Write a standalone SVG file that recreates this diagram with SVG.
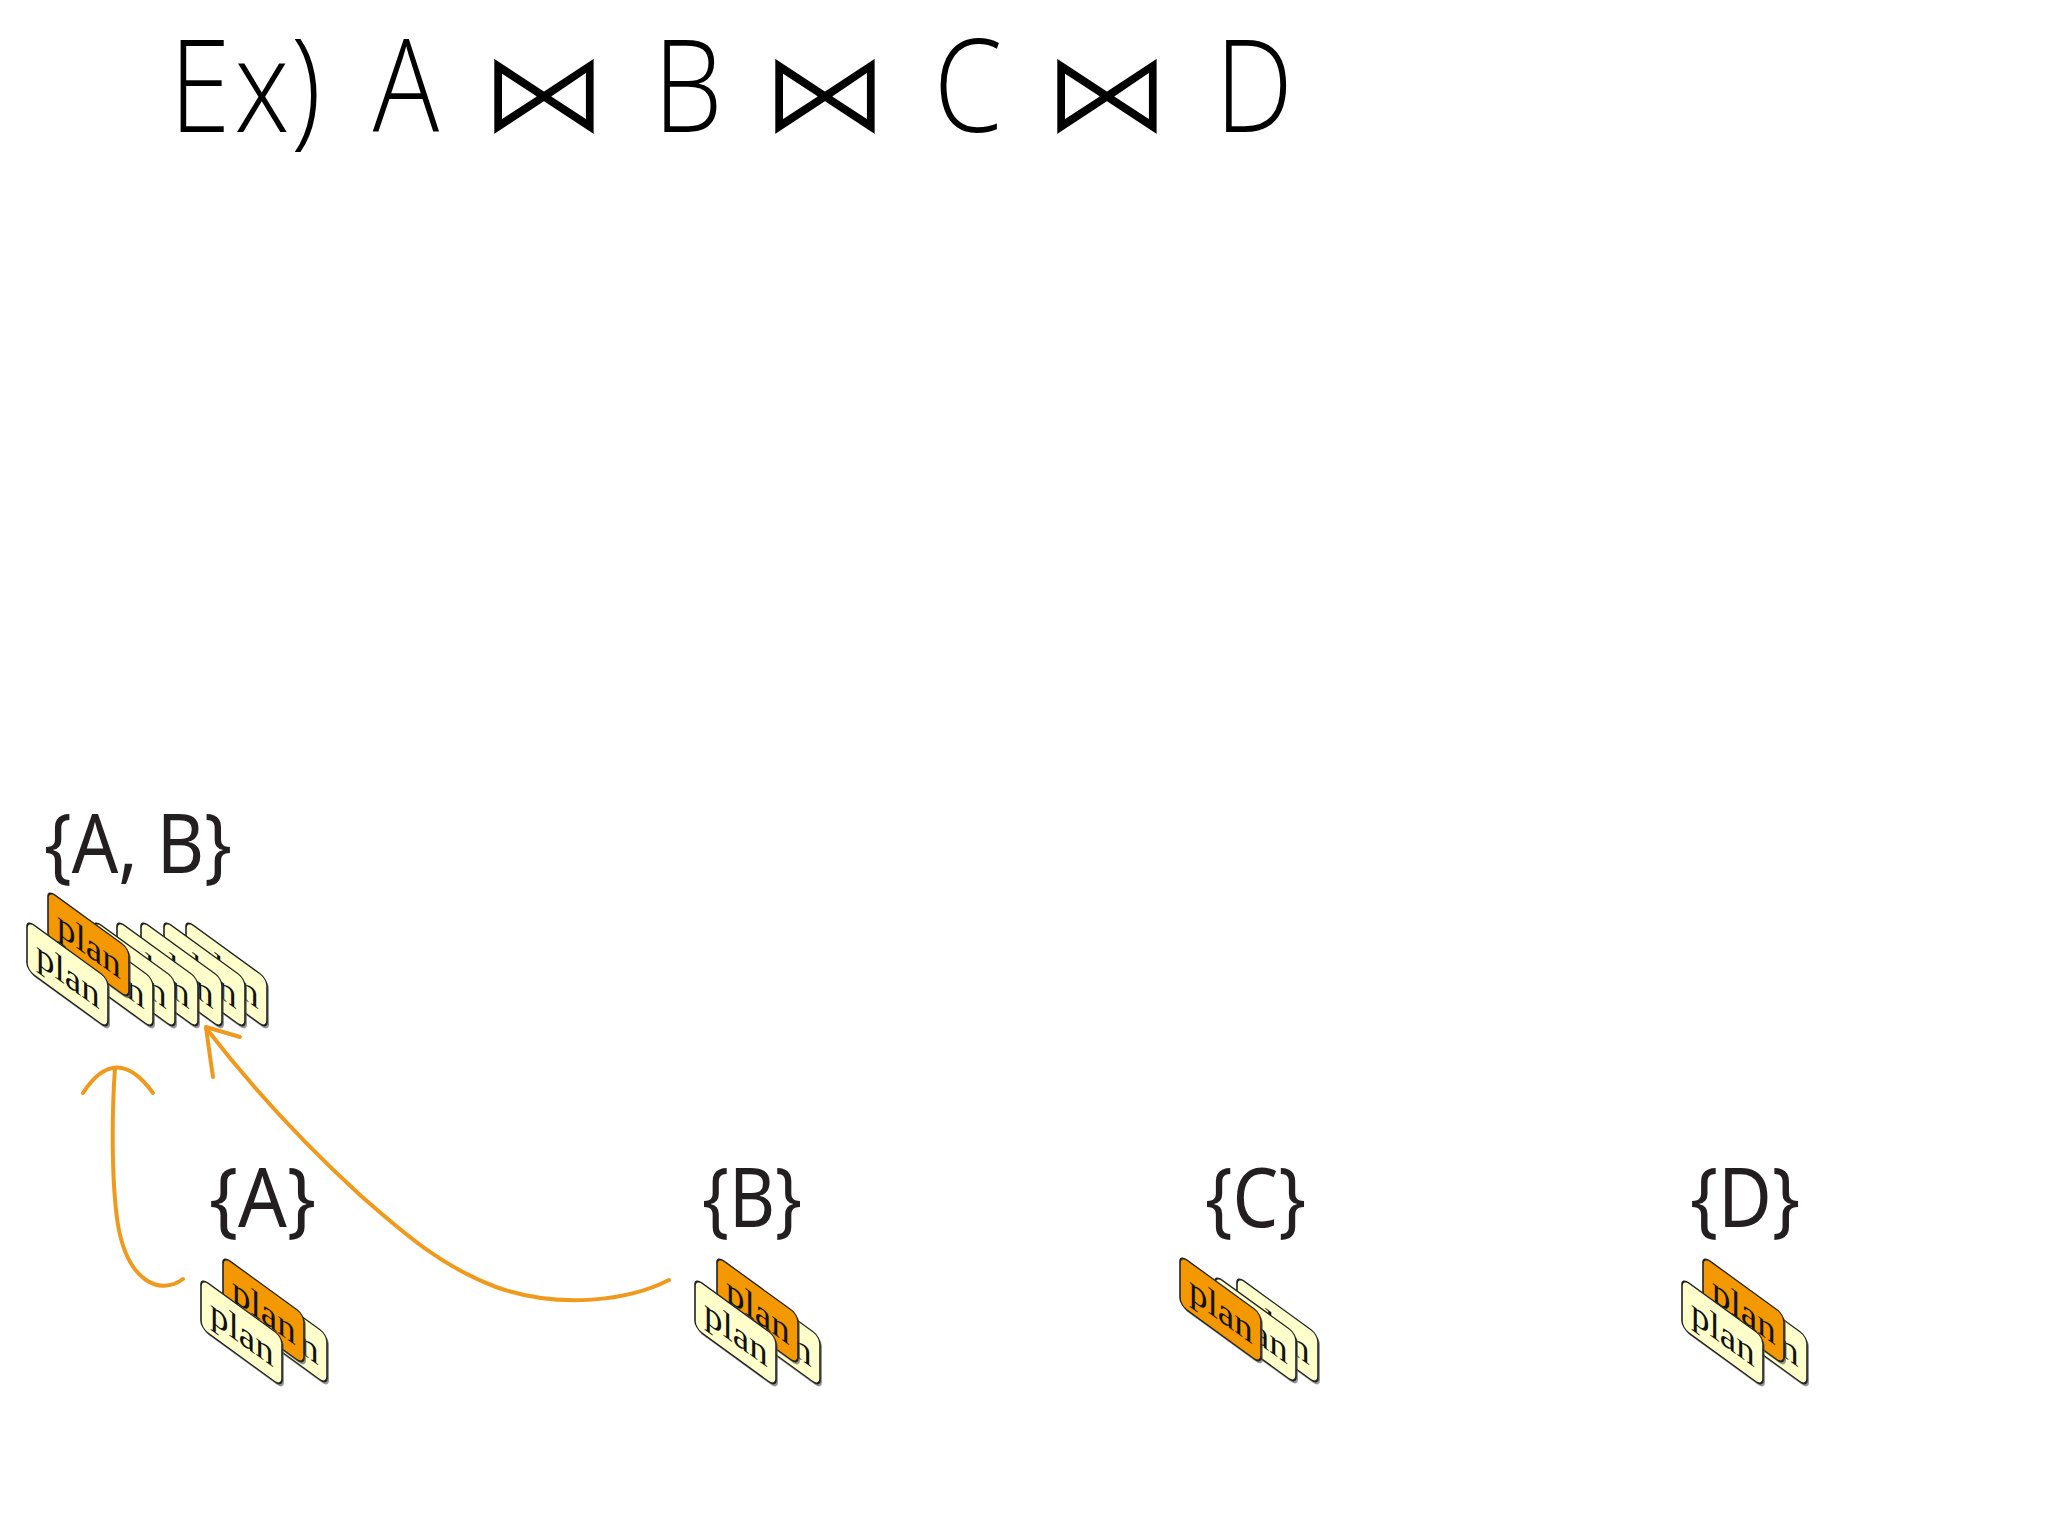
<svg xmlns="http://www.w3.org/2000/svg" xmlns:xlink="http://www.w3.org/1999/xlink" width="2048" height="1536" viewBox="0 0 2048 1536">
<style>
.t{font-family:"Open Sans","Liberation Sans",sans-serif;font-weight:300;font-size:130px;fill:#000}
.bt{font-family:"DejaVu Sans",sans-serif;font-size:130px;fill:#000;stroke:#fff;stroke-width:3}
.lbl{font-family:"Noto Sans","Open Sans",sans-serif;font-size:82px;fill:#231f20}
.cy{fill:#ffffcc;stroke:#222;stroke-width:1.6}
.co{fill:#f39800;stroke:#222;stroke-width:1.6}
.sh{fill:#555;opacity:.6}
.pl{font-family:"Liberation Serif","Times New Roman",serif;font-size:37px;fill:#111}
.arr{fill:none;stroke:#ef9a1c;stroke-width:4;stroke-linecap:round;stroke-linejoin:round}
</style>
<defs>
<g id="cy"><rect class="sh" x="2" y="1.5" width="81" height="50" rx="7"/><rect class="cy" width="81" height="50" rx="7"/><text class="pl" x="9" y="37">plan</text></g>
<g id="co"><rect class="sh" x="2" y="1.5" width="81" height="50" rx="7"/><rect class="co" width="81" height="50" rx="7"/><text class="pl" x="9" y="37">plan</text></g>
</defs>
<rect width="2048" height="1536" fill="#fff"/>
<g id="title">
<text class="t" transform="translate(200,132) scale(0.85,1)" text-anchor="middle">E</text>
<text class="t" transform="translate(262,132) scale(0.85,1)" text-anchor="middle">x</text>
<text class="t" transform="translate(306,132) scale(0.85,1)" text-anchor="middle">)</text>
<text class="t" transform="translate(406,132) scale(0.85,1)" text-anchor="middle">A</text>
<text class="bt" transform="translate(544,133) scale(1,0.9)" text-anchor="middle">⋈</text>
<text class="t" transform="translate(688,132) scale(0.85,1)" text-anchor="middle">B</text>
<text class="bt" transform="translate(825,133) scale(1,0.9)" text-anchor="middle">⋈</text>
<text class="t" transform="translate(968,132) scale(0.85,1)" text-anchor="middle">C</text>
<text class="bt" transform="translate(1107,133) scale(1,0.9)" text-anchor="middle">⋈</text>
<text class="t" transform="translate(1254,132) scale(0.85,1)" text-anchor="middle">D</text>
</g>
<g id="connectors">
<path class="arr" d="M183,1279 C160,1296 128,1282 118,1225 C111,1180 112,1110 115,1068"/>
<path class="arr" d="M83,1093 Q116,1042 153,1093"/>
<path class="arr" d="M669,1280 C630,1300 560,1310 496,1287 C440,1266 400,1230 360,1195 C300,1140 250,1085 206,1028"/>
<path class="arr" d="M240,1037 L206,1027 Q209,1050 213,1077"/>
</g>
<g id="node-AB">
<text class="lbl" x="44" y="873" textLength="188" lengthAdjust="spacingAndGlyphs">{A, B}</text>
<use xlink:href="#cy" transform="translate(186,920) skewY(36)"/>
<use xlink:href="#cy" transform="translate(164,920) skewY(36)"/>
<use xlink:href="#cy" transform="translate(141,920) skewY(36)"/>
<use xlink:href="#cy" transform="translate(117,920) skewY(36)"/>
<use xlink:href="#cy" transform="translate(94,920) skewY(36)"/>
<use xlink:href="#cy" transform="translate(72,920) skewY(36)"/>
<use xlink:href="#co" transform="translate(48,890) skewY(36)"/>
<use xlink:href="#cy" transform="translate(27,920) skewY(36)"/>
</g>
<g id="node-A">
<text class="lbl" x="209" y="1227" textLength="107" lengthAdjust="spacingAndGlyphs">{A}</text>
<use xlink:href="#cy" transform="translate(246,1276) skewY(36)"/>
<use xlink:href="#co" transform="translate(223,1256) skewY(36)"/>
<use xlink:href="#cy" transform="translate(201,1278) skewY(36)"/>
</g>
<g id="node-B">
<text class="lbl" x="702" y="1227" textLength="100" lengthAdjust="spacingAndGlyphs">{B}</text>
<use xlink:href="#cy" transform="translate(739,1278) skewY(36)"/>
<use xlink:href="#co" transform="translate(717,1256) skewY(36)"/>
<use xlink:href="#cy" transform="translate(695,1278) skewY(36)"/>
</g>
<g id="node-C">
<text class="lbl" x="1205" y="1227" textLength="101" lengthAdjust="spacingAndGlyphs">{C}</text>
<use xlink:href="#cy" transform="translate(1237,1276) skewY(36)"/>
<use xlink:href="#cy" transform="translate(1215,1275) skewY(36)"/>
<use xlink:href="#co" transform="translate(1180,1255) skewY(36)"/>
</g>
<g id="node-D">
<text class="lbl" x="1690" y="1227" textLength="110" lengthAdjust="spacingAndGlyphs">{D}</text>
<use xlink:href="#cy" transform="translate(1726,1278) skewY(36)"/>
<use xlink:href="#co" transform="translate(1703,1256) skewY(36)"/>
<use xlink:href="#cy" transform="translate(1682,1278) skewY(36)"/>
</g>
</svg>
